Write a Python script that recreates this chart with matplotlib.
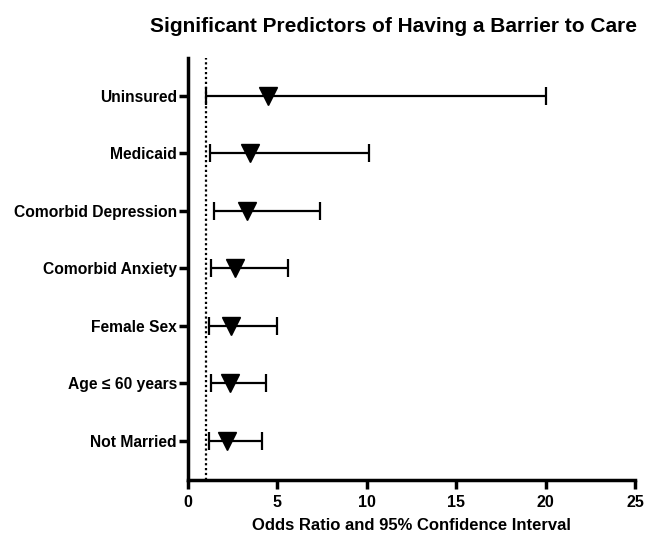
import matplotlib
matplotlib.use("Agg")
import matplotlib.pyplot as plt

categories = ["Uninsured", "Medicaid", "Comorbid Depression", "Comorbid Anxiety",
              "Female Sex", "Age \u2264 60 years", "Not Married"]
odds_ratio = [4.5, 3.46, 3.29, 2.64, 2.4, 2.34, 2.2]
ci_lower = [1.0, 1.22, 1.46, 1.26, 1.16, 1.27, 1.16]
ci_upper = [20.0, 10.15, 7.38, 5.61, 4.98, 4.36, 4.12]
x_ticks = [0, 5, 10, 15, 20, 25]

plt.rcParams['font.family'] = ['Liberation Sans', 'DejaVu Sans']

fig = plt.figure(figsize=(6.47, 5.35), dpi=100)
ax = fig.add_axes([188/647, 1-480/535, (635-188)/647, (480-58)/535])

n = len(categories)
ypos = [n - i for i in range(n)]
xerr = [[o - l for o, l in zip(odds_ratio, ci_lower)],
        [u - o for o, u in zip(odds_ratio, ci_upper)]]
ax.errorbar(odds_ratio, ypos, xerr=xerr, fmt='v', color='black', markersize=13,
            ecolor='black', elinewidth=1.6, capsize=6.5, capthick=1.6, zorder=3)
ax.axvline(1, color='black', linestyle=(0, (1, 1.2)), linewidth=1.6, zorder=1)

ax.set_xlim(0, 25)
ax.set_ylim(0.32, 7.66)
ax.set_xticks(x_ticks)
ax.set_xticklabels([str(t) for t in x_ticks], fontsize=11.5, fontweight='bold')
ax.set_yticks(ypos)
ax.set_yticklabels(categories, fontsize=11.25, fontweight='bold')
for s in ['top', 'right']:
    ax.spines[s].set_visible(False)
for s in ['left', 'bottom']:
    ax.spines[s].set_linewidth(2.5)
ax.tick_params(axis='both', width=2.5, length=6.5, pad=1.5)
ax.tick_params(axis='x', pad=4)
ax.set_xlabel("Odds Ratio and 95% Confidence Interval", fontsize=12, fontweight='bold', labelpad=6)
fig.text(637/647, 1-27/535, "Significant Predictors of Having a Barrier to Care",
         ha='right', va='center', fontsize=15, fontweight='bold')

fig.savefig("out.png", dpi=100)
